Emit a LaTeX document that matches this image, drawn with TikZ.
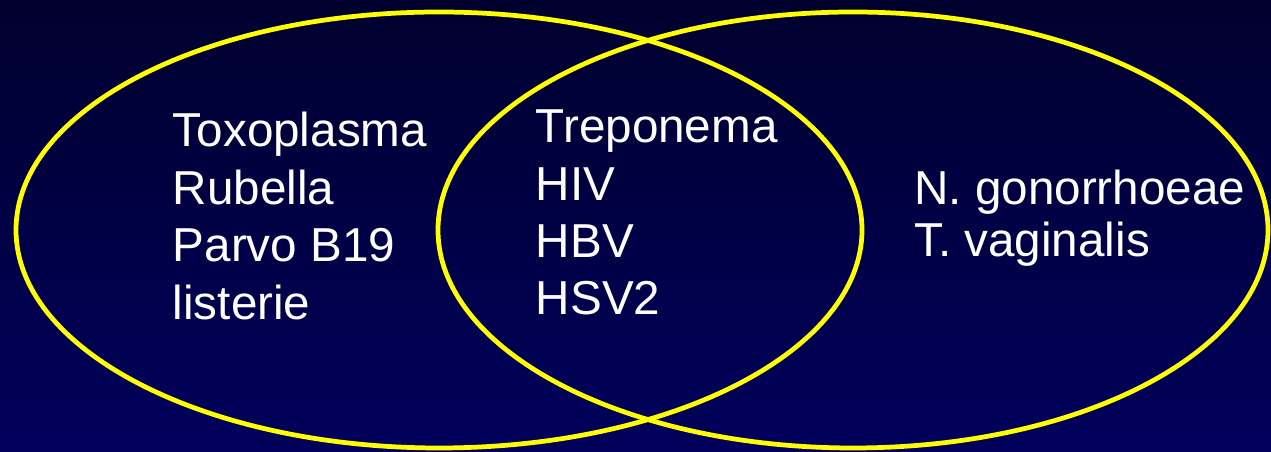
\documentclass[tikz,border=0pt]{standalone}
\usepackage{fontspec}
\setmainfont{Liberation Sans}
\usepackage{tikz}
\usepackage{xcolor}
\definecolor{vnnavytop}{HTML}{00002E}
\definecolor{vnnavybot}{HTML}{00005C}
\definecolor{vnyellow}{HTML}{FFFF00}
\tikzset{
  ring/.style={draw=vnyellow, line width=2.7pt},
  germ/.style={text=white, anchor=base west, inner sep=0pt, font=\fontsize{27.1}{32}\selectfont}
}

\begin{document}
\begin{tikzpicture}[x=1cm,y=1cm]
  \shade[top color=vnnavytop, bottom color=vnnavybot] (0,0) rectangle (25.42,9.04);
  \useasboundingbox (0,0) rectangle (25.42,9.04);
  % two overlapping sets
  \draw[ring] (8.78,4.44) ellipse [x radius=8.46, y radius=4.36];
  \draw[ring] (17.06,4.44) ellipse [x radius=8.30, y radius=4.36];
  % left only
  \foreach \txt [count=\i] in {Toxoplasma, Rubella, Parvo B19, listerie}
    \node[germ] (left\i) at (3.45,{6.10-1.15*(\i-1)}) {\txt};
  % both
  \foreach \txt [count=\i] in {Treponema, HIV, HBV, HSV2}
    \node[germ] (both\i) at (10.71,{6.18-1.145*(\i-1)}) {\txt};
  % right only
  \node[germ] (right1) at (18.28,4.94) {N. gonorrhoeae};
  \node[germ] (right2) at (18.28,3.90) {T. vaginalis};
\end{tikzpicture}
\end{document}
